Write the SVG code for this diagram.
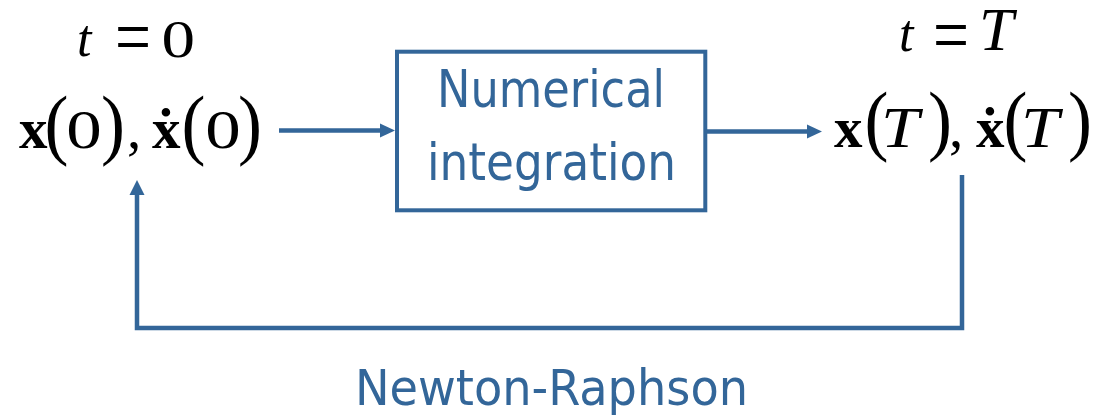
<svg xmlns="http://www.w3.org/2000/svg" width="1100" height="417" viewBox="0 0 1100 417">
  <style>
    .blue { fill: #336699; font-family: "DejaVu Sans Condensed", "DejaVu Sans", sans-serif; font-stretch: condensed; }
    .math { fill: #000; font-family: "Liberation Serif", "Times New Roman", serif; }
    .bx { font-weight: bold; font-size: 57px; }
    .par { font-size: 60px; }
    .num { font-size: 55px; }
    .it { font-style: italic; }
    .wire { fill: none; stroke: #336699; stroke-width: 4.5; }
    .head { fill: #336699; }
  </style>

  <!-- initial state at t = 0 -->
  <g id="initial-state">
    <text class="math it" x="77" y="56" font-size="52">t</text>
    <text class="math" transform="translate(115,64) scale(1.1,1.4)" font-size="58">=</text>
    <text class="math" transform="translate(161.5,57) scale(1.29,1)" font-size="52">0</text>
    <text class="math bx" x="19" y="148">x</text>
    <text class="math par" transform="translate(44.5,150) scale(1.2,1.32)">(</text>
    <text class="math num" transform="translate(66.3,148) scale(1.29,1)">0</text>
    <text class="math par" transform="translate(101,150) scale(1.2,1.32)">)</text>
    <text class="math" x="127" y="148" font-size="57">,</text>
    <text class="math bx" x="152" y="148">ẋ</text>
    <text class="math par" transform="translate(181.5,150) scale(1.2,1.32)">(</text>
    <text class="math num" transform="translate(205.3,148) scale(1.29,1)">0</text>
    <text class="math par" transform="translate(238,150) scale(1.2,1.32)">)</text>
  </g>

  <!-- integrator block -->
  <g id="integrator">
    <rect x="397" y="51.7" width="308.3" height="158.6" fill="none" stroke="#336699" stroke-width="4"/>
    <text class="blue" x="551" y="107" font-size="52" text-anchor="middle" textLength="228" lengthAdjust="spacingAndGlyphs">Numerical</text>
    <text class="blue" x="551.5" y="180" font-size="52" text-anchor="middle" textLength="249" lengthAdjust="spacingAndGlyphs">integration</text>
  </g>

  <!-- final state at t = T -->
  <g id="final-state">
    <text class="math it" x="899" y="51" font-size="52">t</text>
    <text class="math" transform="translate(933,62) scale(1.1,1.4)" font-size="58">=</text>
    <text class="math it" x="979" y="50" font-size="62">T</text>
    <text class="math bx" x="834" y="147">x</text>
    <text class="math par" transform="translate(864.5,146) scale(1.2,1.32)">(</text>
    <text class="math it" transform="translate(881,147) scale(1.18,1)" font-size="58">T</text>
    <text class="math par" transform="translate(928,146) scale(1.2,1.32)">)</text>
    <text class="math" x="949" y="147" font-size="57">,</text>
    <text class="math bx" x="976" y="147">ẋ</text>
    <text class="math par" transform="translate(1003.5,146) scale(1.2,1.32)">(</text>
    <text class="math it" transform="translate(1021,147) scale(1.18,1)" font-size="58">T</text>
    <text class="math par" transform="translate(1068,146) scale(1.2,1.32)">)</text>
  </g>

  <g id="solver-label">
    <text class="blue" x="551.5" y="405" font-size="50" text-anchor="middle" textLength="393" lengthAdjust="spacingAndGlyphs">Newton-Raphson</text>
  </g>

  <g id="connectors">
    <line class="wire" x1="279" y1="130.5" x2="382" y2="130.5"/>
    <path class="head" d="M380,123.5 L395,130.5 L380,137.5 Z"/>
    <line class="wire" x1="706" y1="131.5" x2="809" y2="131.5"/>
    <path class="head" d="M807,124.5 L822,131.5 L807,138.5 Z"/>
    <polyline class="wire" points="962,175 962,328 137,328 137,193"/>
    <path class="head" d="M129.5,195 L137,180 L144.5,195 Z"/>
  </g>
</svg>
